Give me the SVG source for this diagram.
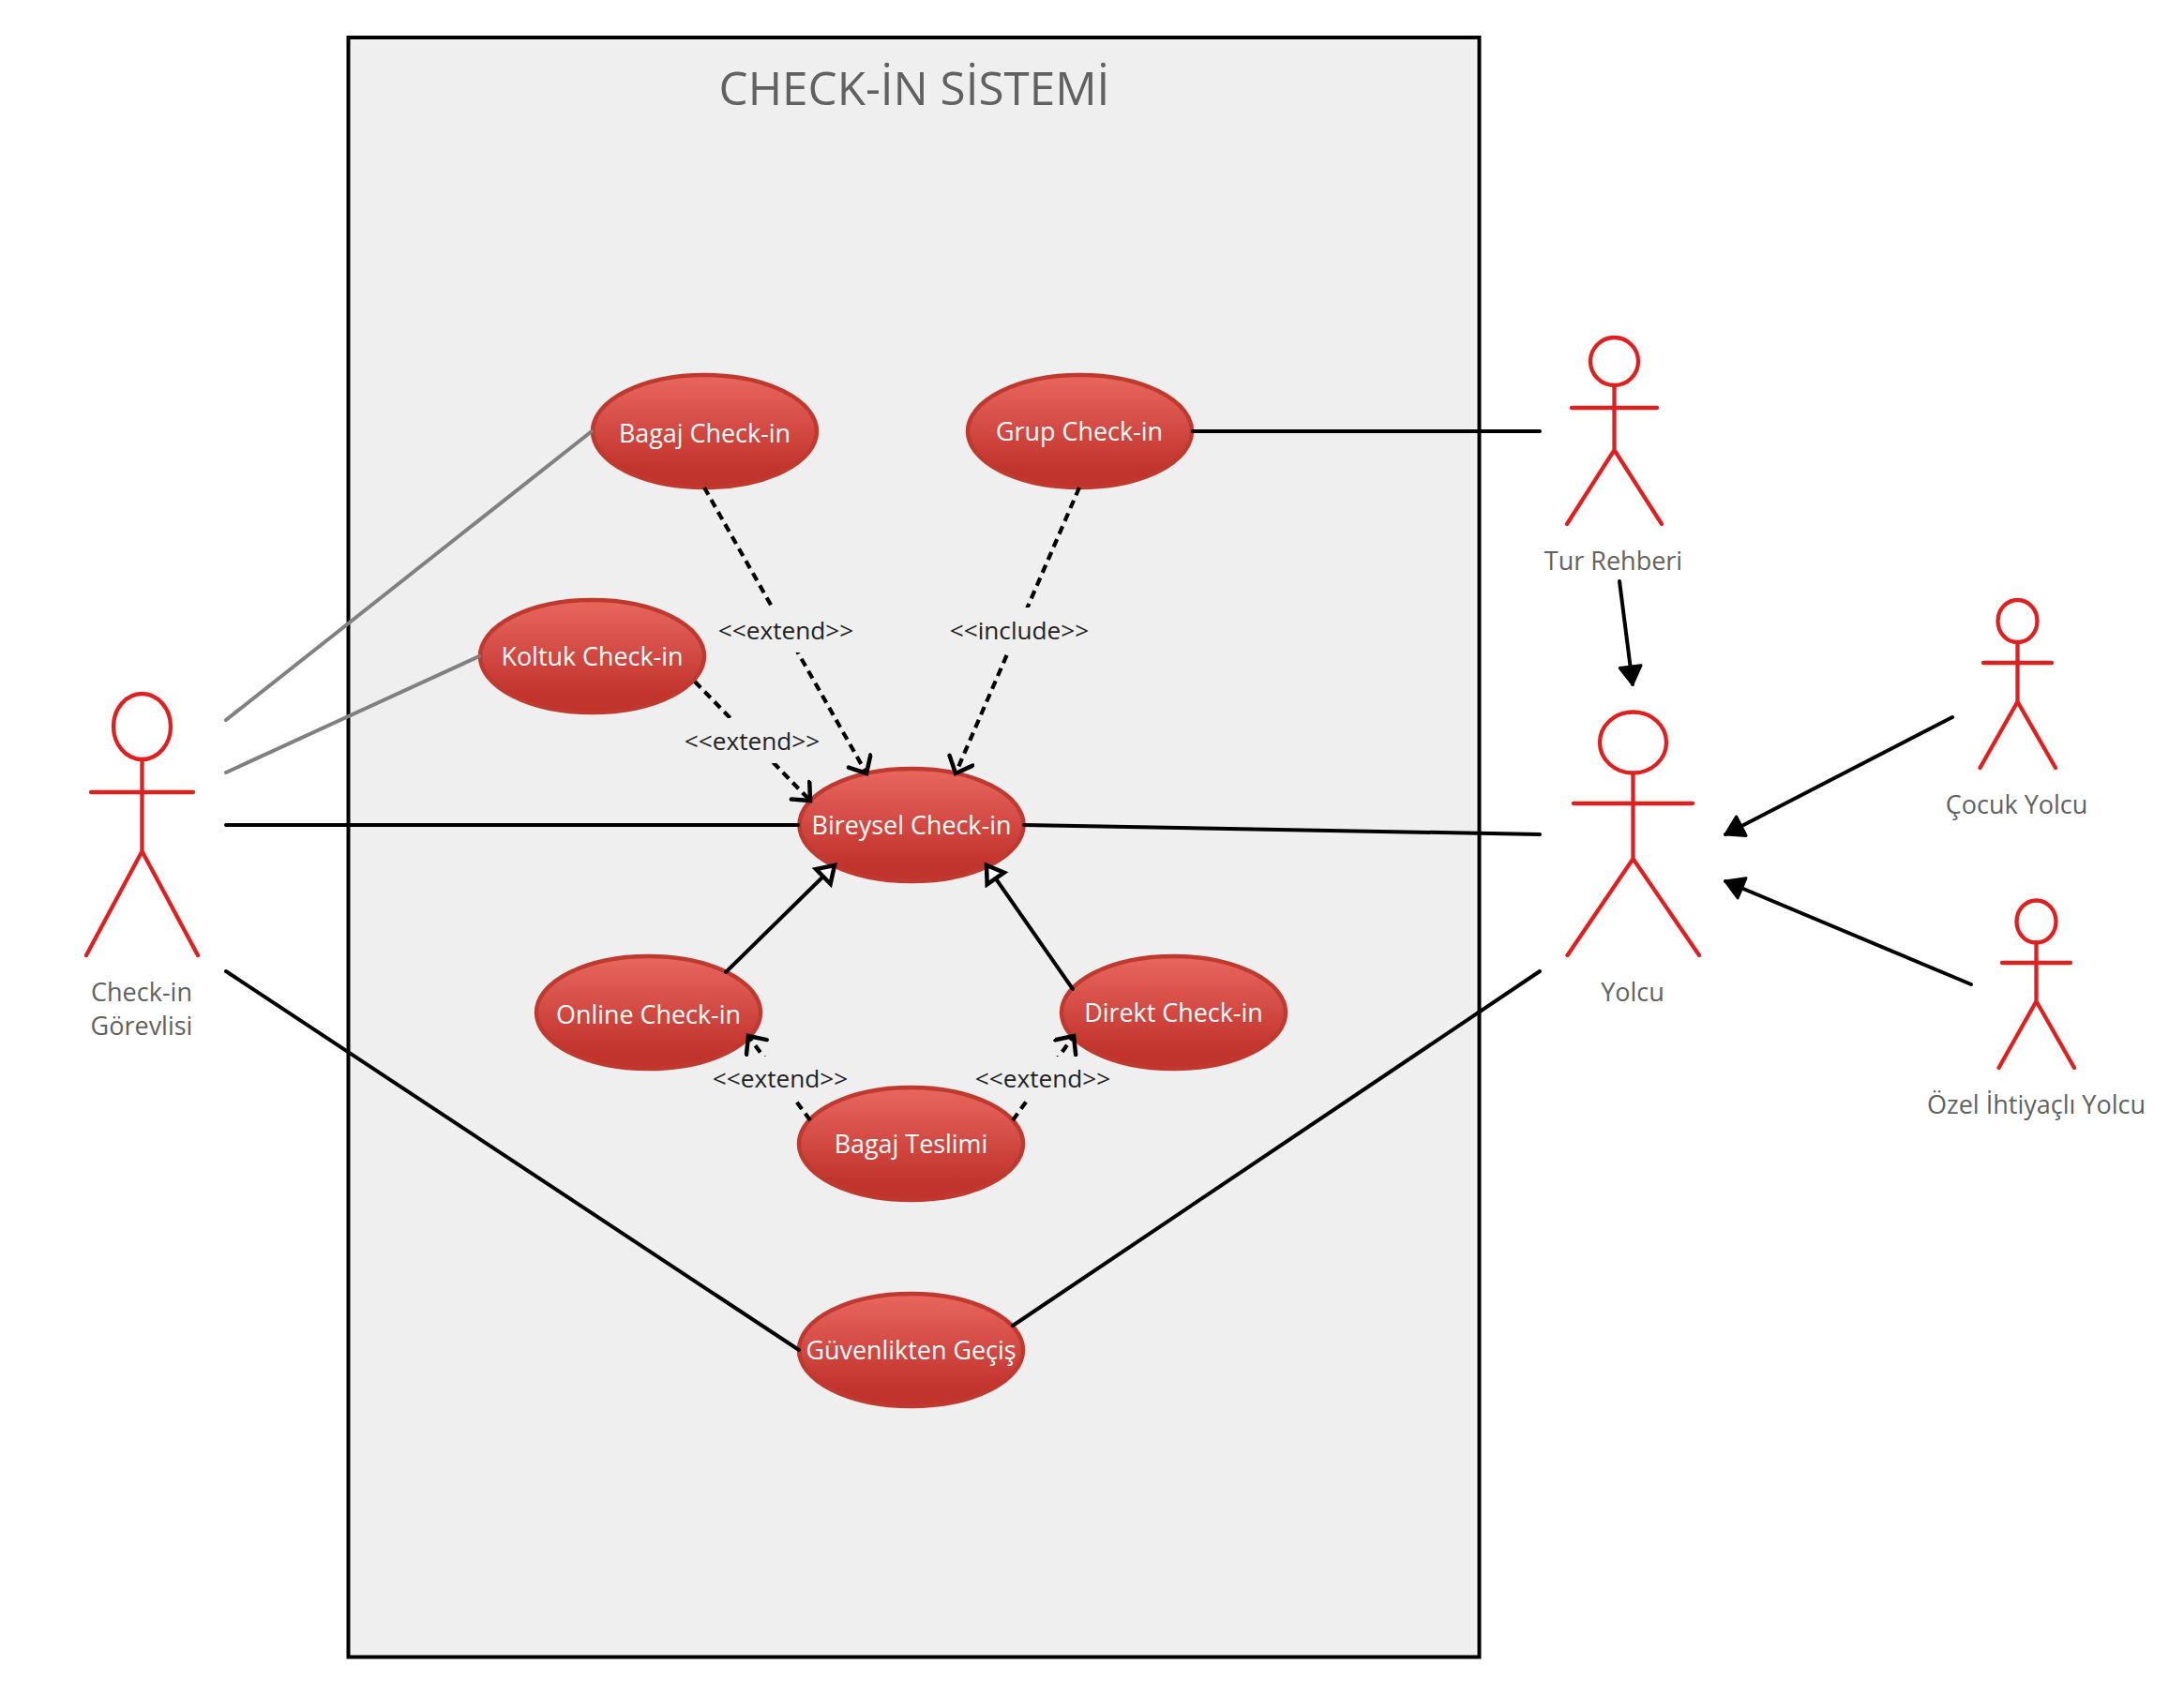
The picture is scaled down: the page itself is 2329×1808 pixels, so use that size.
<svg xmlns="http://www.w3.org/2000/svg" width="2329" height="1808" viewBox="0 0 2329 1808">
<style>
text{font-family:"Open Sans","Noto Sans","Liberation Sans",sans-serif;text-anchor:middle}
.uc ellipse{fill:url(#g);stroke:#c0392f;stroke-width:4.5}
.uc text{fill:#fff;font-size:26.9px}
.ac{fill:none;stroke:#e01f1f;stroke-width:4.3;stroke-linecap:round;stroke-linejoin:round}
.al{fill:#616161;font-size:27px}
.cn{fill:none;stroke:#000;stroke-width:4;stroke-linecap:round}
.gr{stroke:#808080}
.da{stroke-dasharray:9 6;stroke-width:4.2;stroke-linecap:butt;marker-end:url(#open)}
.lb{fill:#222;font-size:26.2px}
.bg{fill:#efefef}
</style>
<defs>
<linearGradient id="g" x1="0" y1="0" x2="0" y2="1"><stop offset="0" stop-color="#e8675f"/><stop offset="0.85" stop-color="#c1332d"/><stop offset="1" stop-color="#c1332d"/></linearGradient>
<marker id="open" markerUnits="userSpaceOnUse" markerWidth="32" markerHeight="32" refX="25" refY="15" orient="auto"><path d="M10,1.5L25,15L10,28.5" fill="none" stroke="#000" stroke-width="4.5" stroke-linecap="round" stroke-linejoin="miter"/></marker>
<marker id="tri" markerUnits="userSpaceOnUse" markerWidth="32" markerHeight="32" refX="25" refY="15" orient="auto"><path d="M25,15L8,4V26Z" fill="#fff" stroke="#000" stroke-width="4.5" stroke-linejoin="miter"/></marker>
<marker id="solid" markerUnits="userSpaceOnUse" markerWidth="32" markerHeight="32" refX="25" refY="15" orient="auto"><path d="M25,15L6,3.5V26.5Z" fill="#000" stroke="#000" stroke-width="3" stroke-linejoin="round"/></marker>
</defs>
<rect x="0" y="0" width="2329" height="1808" fill="#fff"/>
<g id="system">
<rect x="371.5" y="40" width="1206" height="1727.5" fill="#efefef" stroke="#000" stroke-width="4"/>
<text x="975" y="112" font-size="49.4" fill="#616161">CHECK-İN SİSTEMİ</text>
</g>
<g id="uc-bagaj" class="uc"><ellipse cx="751.5" cy="460" rx="119.5" ry="60"/><text x="751.5" y="472">Bagaj Check-in</text></g>
<g id="uc-grup" class="uc"><ellipse cx="1151.5" cy="460" rx="119.5" ry="60"/><text x="1151" y="470">Grup Check-in</text></g>
<g id="uc-koltuk" class="uc"><ellipse cx="631.5" cy="700" rx="119.5" ry="60"/><text x="631.5" y="710">Koltuk Check-in</text></g>
<g id="uc-bireysel" class="uc"><ellipse cx="972" cy="880" rx="119.5" ry="60"/><text x="972" y="890">Bireysel Check-in</text></g>
<g id="uc-online" class="uc"><ellipse cx="691.5" cy="1080" rx="119.5" ry="60"/><text x="691.5" y="1092">Online Check-in</text></g>
<g id="uc-direkt" class="uc"><ellipse cx="1251.5" cy="1080" rx="119.5" ry="60"/><text x="1251.5" y="1090">Direkt Check-in</text></g>
<g id="uc-teslim" class="uc"><ellipse cx="971.5" cy="1220" rx="119.5" ry="60"/><text x="971.5" y="1230">Bagaj Teslimi</text></g>
<g id="uc-guvenlik" class="uc"><ellipse cx="971.5" cy="1440" rx="119.5" ry="60"/><text x="971.5" y="1450">Güvenlikten Geçiş</text></g>
<g id="actor-gorevli"><path class="ac" d="M151.5,810V908M97,845H206M92,1019L151.5,908L211,1019"/><ellipse class="ac" cx="151.5" cy="775" rx="30.5" ry="35"/><text class="al" x="151" y="1068">Check-in</text><text class="al" x="151" y="1104">Görevlisi</text></g>
<g id="actor-rehber"><path class="ac" d="M1721.5,411V480M1676,435H1767M1671,559L1721.5,480L1772,559"/><ellipse class="ac" cx="1721.5" cy="385.5" rx="25.5" ry="25.5"/><text class="al" x="1720.5" y="608">Tur Rehberi</text></g>
<g id="actor-yolcu"><path class="ac" d="M1741.5,825V916M1678,857H1805M1671.5,1019L1741.5,916L1812,1019"/><ellipse class="ac" cx="1741.5" cy="792" rx="35.5" ry="32.5"/><text class="al" x="1741" y="1068">Yolcu</text></g>
<g id="actor-cocuk"><path class="ac" d="M2151.5,685V748.5M2115,707H2188M2111.5,819L2151.5,748.5L2192,819"/><ellipse class="ac" cx="2151.5" cy="662.5" rx="21" ry="22.5"/><text class="al" x="2150.5" y="868">Çocuk Yolcu</text></g>
<g id="actor-ozel"><path class="ac" d="M2171.5,1005.5V1068M2135,1027H2208M2131.5,1139L2171.5,1068L2212,1139"/><ellipse class="ac" cx="2171.5" cy="983" rx="21" ry="22.5"/><text class="al" x="2171.5" y="1188">Özel İhtiyaçlı Yolcu</text></g>
<g id="connectors">
<line class="cn gr" x1="241" y1="768" x2="631" y2="460"/>
<line class="cn gr" x1="241" y1="824" x2="511" y2="700"/>
<line class="cn" x1="241" y1="880" x2="851" y2="880"/>
<line class="cn" x1="241" y1="1036" x2="852" y2="1440"/>
<line class="cn" x1="1272" y1="460" x2="1642" y2="460"/>
<line class="cn" x1="1092" y1="880" x2="1642" y2="890"/>
<line class="cn" x1="1080" y1="1414" x2="1642" y2="1036"/>
<line class="cn" x1="1727" y1="620" x2="1741" y2="730" marker-end="url(#solid)"/>
<line class="cn" x1="2082" y1="765" x2="1840" y2="890" marker-end="url(#solid)"/>
<line class="cn" x1="2102" y1="1050" x2="1840" y2="940" marker-end="url(#solid)"/>
<line class="cn" x1="774" y1="1037" x2="890" y2="923" marker-end="url(#tri)"/>
<line class="cn" x1="1144" y1="1055" x2="1052" y2="923" marker-end="url(#tri)"/>
<line class="cn da" x1="751" y1="520" x2="924" y2="825"/>
<line class="cn da" x1="1151" y1="520" x2="1019" y2="825"/>
<line class="cn da" x1="741" y1="727" x2="864" y2="854"/>
<line class="cn da" x1="864" y1="1195" x2="798" y2="1105"/>
<line class="cn da" x1="1080" y1="1195" x2="1145" y2="1105"/>
<rect class="bg" x="758" y="648" width="160" height="48"/><text class="lb" x="838" y="682">&lt;&lt;extend&gt;&gt;</text>
<rect class="bg" x="1007" y="648" width="160" height="48"/><text class="lb" x="1087" y="682">&lt;&lt;include&gt;&gt;</text>
<rect class="bg" x="722" y="766" width="125" height="48"/><text class="lb" x="802" y="800">&lt;&lt;extend&gt;&gt;</text>
<rect class="bg" x="775" y="1127" width="113" height="47"/><text class="lb" x="832" y="1160">&lt;&lt;extend&gt;&gt;</text>
<rect class="bg" x="1058" y="1127" width="112" height="47"/><text class="lb" x="1112" y="1160">&lt;&lt;extend&gt;&gt;</text>
</g>
</svg>
